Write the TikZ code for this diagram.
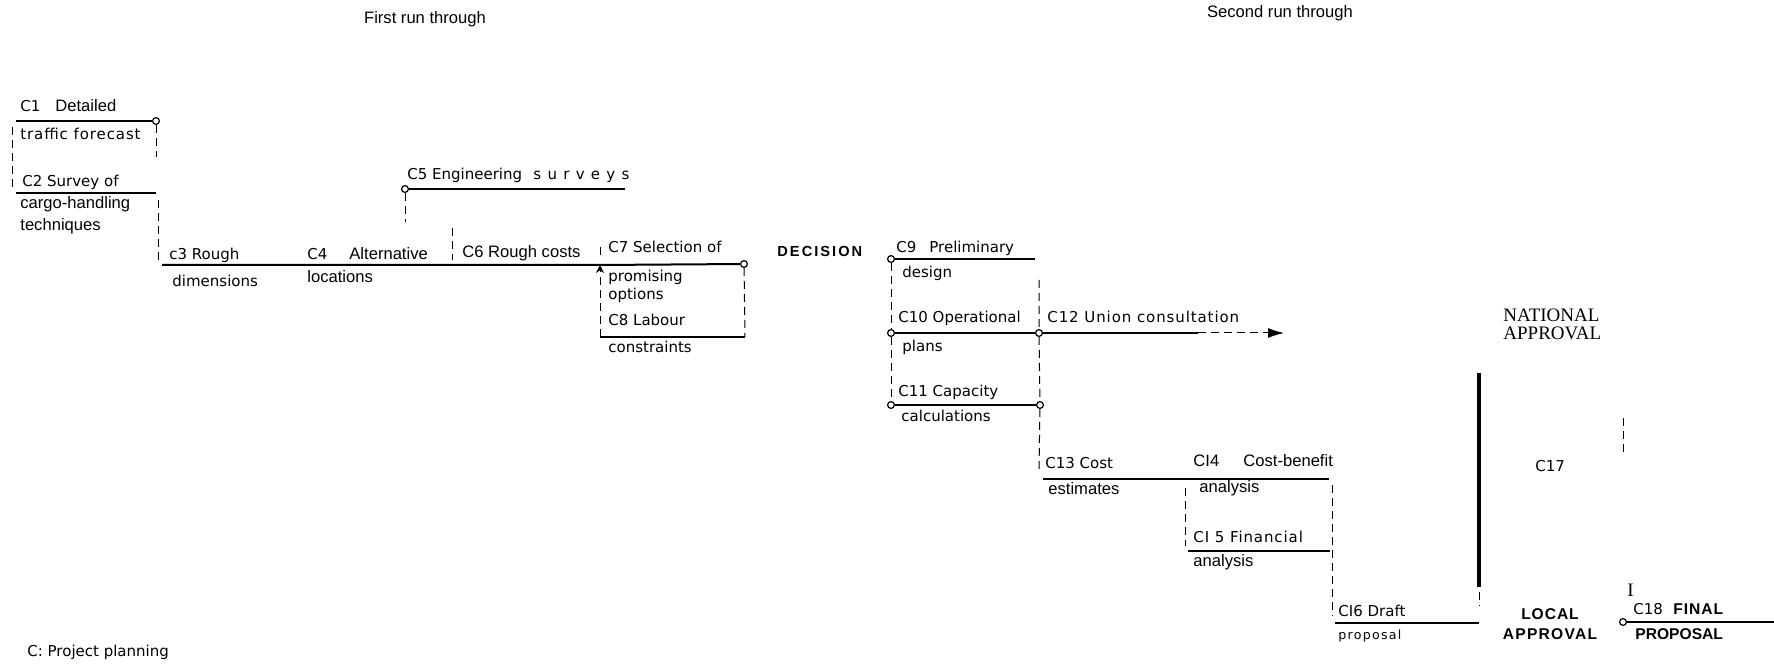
\documentclass[tikz,border=0pt]{standalone}
\usepackage{fontspec}
\setmainfont{DejaVu Sans}
\newfontfamily\narrowfont{Liberation Sans}
\newfontfamily\romanfont{Liberation Serif}
\usetikzlibrary{arrows.meta}

\tikzset{
  wide/.style={font=\fontsize{7.5}{9}\selectfont, anchor=base west, inner sep=0pt},
  slim/.style={font=\narrowfont\fontsize{8.3}{10}\selectfont, anchor=base west, inner sep=0pt},
  heavy/.style={font=\narrowfont\bfseries\fontsize{7.5}{9}\selectfont, anchor=base west, inner sep=0pt},
  roman/.style={font=\romanfont\fontsize{9.5}{11}\selectfont, anchor=base west, inner sep=0pt},
  act/.style={line width=1pt},
  bigact/.style={line width=1.6pt},
  link/.style={line width=0.5pt, dash pattern=on 4pt off 2.5pt},
  evt/.style={circle, draw, line width=0.6pt, fill=white, minimum size=3.4pt, inner sep=0pt},
}

\begin{document}
\begin{tikzpicture}[x=0.5pt,y=-0.5pt]
\useasboundingbox (0,0) rectangle (1774,667);

% ---------- headings ----------
\node[slim, anchor=base] (h1) at (425,24) {First run through};
\node[slim, anchor=base] (h2) at (1280,18) {Second run through};

% ---------- events ----------
\node[evt] (e1)   at (156,121) {};
\node[evt] (e5)   at (405,189) {};
\node[evt] (e7)   at (744,264) {};
\node[evt] (e9)   at (891,259) {};
\node[evt] (e10l) at (891,333) {};
\node[evt] (e10r) at (1039,333) {};
\node[evt] (e11l) at (891,405) {};
\node[evt] (e11r) at (1040,405) {};
\node[evt] (e18)  at (1623,622) {};

% ---------- end points of activities ----------
\coordinate (c1s) at (16,121);
\coordinate (d1)  at (156,157);
\coordinate (l1a) at (12,127);
\coordinate (l1b) at (12,187);
\coordinate (c2s) at (16,193);
\coordinate (c2e) at (156,193);
\coordinate (d2a) at (158,200);
\coordinate (d2b) at (158,262);
\coordinate (c3s) at (162,265);
\coordinate (c4s) at (305,265);
\coordinate (c6s) at (452,265);
\coordinate (c7s) at (600,265);
\coordinate (c5e) at (625,189);
\coordinate (d5)  at (405,222);
\coordinate (d6a) at (452,228);
\coordinate (d6b) at (452,260);
\coordinate (d7a) at (600,247);
\coordinate (d7b) at (600,258);
\coordinate (c8s) at (600,337);
\coordinate (c8e) at (745,337);
\coordinate (c9e) at (1035,259);
\coordinate (r9)  at (1039,280);
\coordinate (d13) at (1039,470);
\coordinate (c12m) at (1198,333);
\coordinate (c12e) at (1284,333);
\coordinate (c13s) at (1043,479);
\coordinate (c13e) at (1329,479);
\coordinate (d14a) at (1185,488);
\coordinate (d14b) at (1185,546);
\coordinate (c15s) at (1188,551);
\coordinate (c15e) at (1330,551);
\coordinate (d16a) at (1332,485);
\coordinate (d16b) at (1332,616);
\coordinate (c16s) at (1335,623);
\coordinate (c16e) at (1479,623);
\coordinate (c17a) at (1479,373);
\coordinate (c17b) at (1479,587);
\coordinate (c17c) at (1479,592);
\coordinate (c17d) at (1479,606);
\coordinate (d18a) at (1623,418);
\coordinate (d18b) at (1623,452);
\coordinate (c18e) at (1774,622);

% ---------- activities (solid) ----------
\draw[act] (c1s) -- (e1);
\draw[act] (c2s) -- (c2e);
\draw[act] (c3s) -- (c4s) -- (c6s) -- (c7s) -- (e7);
\draw[act] (e5) -- (c5e);
\draw[act] (c8s) -- (c8e);
\draw[act] (e9) -- (c9e);
\draw[act] (e10l) -- (e10r);
\draw[act] (e10r) -- (c12m);
\draw[act] (e11l) -- (e11r);
\draw[act] (c13s) -- (c13e);
\draw[act] (c15s) -- (c15e);
\draw[act] (c16s) -- (c16e);
\draw[act] (e18) -- (c18e);
\draw[bigact] (c17a) -- (c17b);

% ---------- dependencies (dashed) ----------
\draw[link] (e1) -- (d1);
\draw[link] (l1a) -- (l1b);
\draw[link] (d2a) -- (d2b);
\draw[link] (e5) -- (d5);
\draw[link] (d6a) -- (d6b);
\draw[link] (d7a) -- (d7b);
\draw[link, -{Stealth[length=4pt,width=4pt]}] (c8s) -- (c7s);
\draw[link] (e7) -- (c8e);
\draw[link] (e9) -- (e10l) -- (e11l);
\draw[link] (r9) -- (e10r) -- (e11r) -- (d13);
\draw[link, -{Latex[length=8pt,width=5pt]}] (c12m) -- (c12e);
\draw[link] (d14a) -- (d14b);
\draw[link] (d16a) -- (d16b);
\draw[link] (c17c) -- (c17d);
\draw[link] (d18a) -- (d18b);

% ---------- labels ----------
\node[wide] (t1a) at (20,112) {C1};
\node[slim] (t1b) at (55,112) {Detailed};
\node[wide, font=\fontsize{7.5}{9}\selectfont\addfontfeature{LetterSpace=6}] (t1c) at (20,140) {traffic forecast};
\node[wide] (t2a) at (22,187) {C2 Survey of};
\node[slim] (t2b) at (20,209) {cargo-handling};
\node[slim] (t2c) at (20,231) {techniques};

\node[wide] (t3a) at (169,260) {c3 Rough};
\node[wide] (t3b) at (172,287) {dimensions};
\node[wide] (t4a) at (307,260) {C4};
\node[slim] (t4b) at (349,260) {Alternative};
\node[slim] (t4c) at (307,283) {locations};
\node[wide] (t5a) at (407,180) {C5 Engineering};
\node[wide, font=\fontsize{7.5}{9}\selectfont\addfontfeature{LetterSpace=42}] (t5b) at (533,180) {surveys};
\node[slim] (t6)  at (462,258) {C6 Rough costs};
\node[wide] (t7a) at (608,253) {C7 Selection of};
\node[wide] (t7b) at (608,282) {promising};
\node[wide] (t7c) at (608,300) {options};
\node[wide] (t8a) at (608,326) {C8 Labour};
\node[wide] (t8b) at (608,353) {constraints};

\node[heavy, font=\narrowfont\bfseries\fontsize{7.3}{9}\selectfont\addfontfeature{LetterSpace=14}] (dec) at (777,257) {DECISION};

\node[wide] (t9a)  at (896,253) {C9};
\node[wide] (t9b)  at (929,253) {Preliminary};
\node[wide] (t9c)  at (902,278) {design};
\node[wide] (t10a) at (898,323) {C10 Operational};
\node[wide] (t10b) at (902,352) {plans};
\node[wide] (t11a) at (898,397) {C11 Capacity};
\node[wide] (t11b) at (901,422) {calculations};
\node[wide, font=\fontsize{7.5}{9}\selectfont\addfontfeature{LetterSpace=6}] (t12) at (1047,323) {C12 Union consultation};

\node[wide] (t13a) at (1045,469) {C13 Cost};
\node[slim] (t13b) at (1048,495) {estimates};
\node[slim] (t14a) at (1193,467) {CI4};
\node[slim] (t14b) at (1243,467) {Cost-benefit};
\node[slim] (t14c) at (1199,493) {analysis};
\node[wide, font=\fontsize{7.5}{9}\selectfont\addfontfeature{LetterSpace=6}] (t15a) at (1193,543) {CI 5 Financial};
\node[slim] (t15b) at (1193,567) {analysis};
\node[wide] (t16a) at (1338,617) {CI6 Draft};
\node[wide, font=\fontsize{6.3}{8}\selectfont\addfontfeature{LetterSpace=10}] (t16b) at (1338,640) {proposal};

\node[roman] (nat1) at (1503,322) {NATIONAL};
\node[roman] (nat2) at (1503,340) {APPROVAL};
\node[wide]  (t17)  at (1535,472) {C17};
\node[heavy, anchor=base, font=\narrowfont\bfseries\fontsize{7.8}{9}\selectfont\addfontfeature{LetterSpace=6}] (loc1) at (1550,620) {LOCAL};
\node[heavy, anchor=base, font=\narrowfont\bfseries\fontsize{7.8}{9}\selectfont\addfontfeature{LetterSpace=8}] (loc2) at (1550,640) {APPROVAL};
\node[roman] (ibar) at (1627,597) {I};
\node[wide]  (t18a) at (1633,615) {C18};
\node[heavy, font=\narrowfont\bfseries\fontsize{7.8}{9}\selectfont\addfontfeature{LetterSpace=6}] (t18b) at (1673,615) {FINAL};
\node[heavy, font=\narrowfont\bfseries\fontsize{7.8}{9}\selectfont] (t18c) at (1635,640) {PROPOSAL};

\node[wide] (key) at (27,657) {C: Project planning};
\end{tikzpicture}
\end{document}
